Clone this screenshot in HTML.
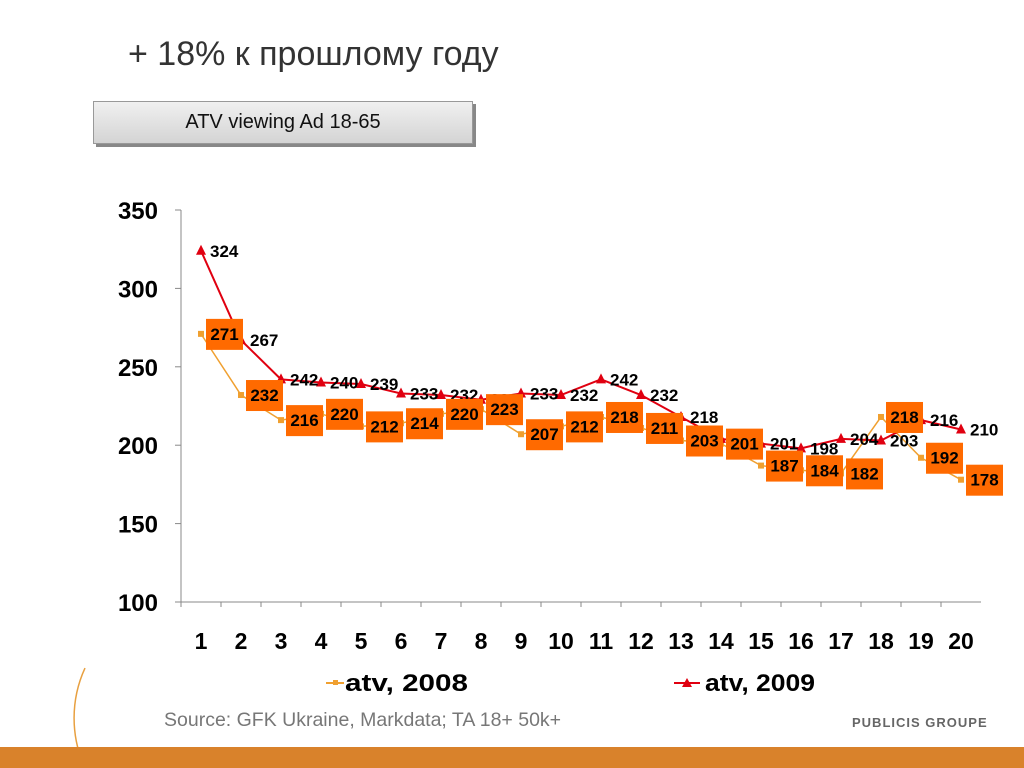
<!DOCTYPE html>
<html><head><meta charset="utf-8"><style>
body{margin:0;width:1024px;height:768px;background:#fff;font-family:"Liberation Sans",sans-serif;position:relative;overflow:hidden}
.t{position:absolute;left:128px;top:35px;font-size:34px;color:#333}
.hb{position:absolute;left:93px;top:101px;width:378px;height:41px;background:linear-gradient(#f0f0f0,#d4d4d4);border:1px solid #999;box-shadow:3px 3px 0 #888;font-size:20px;line-height:41px;text-align:center;color:#111}
.src{position:absolute;left:164px;top:709px;font-size:19.5px;color:#777}
.pub{position:absolute;left:852px;top:715px;font-size:13px;letter-spacing:1px;color:#666;font-weight:bold}
.bar{position:absolute;left:0;top:747px;width:1024px;height:21px;background:#d9822b}
</style></head><body>
<div class="t">+ 18% к прошлому году</div>
<div class="hb">ATV viewing Ad 18-65</div>
<svg width="1024" height="768" style="position:absolute;left:0;top:0">
<path d="M85 668 A120 120 0 0 0 85 768" fill="none" stroke="#e8a040" stroke-width="1.5"/>
<g id="g"></g>
<text x="345" y="691" font-size="24" font-weight="bold" font-family="Liberation Sans" textLength="123" lengthAdjust="spacingAndGlyphs">atv, 2008</text>
<line x1="326" y1="683" x2="344" y2="683" stroke="#f0a030" stroke-width="2"/>
<rect x="333" y="680" width="5" height="5" fill="#f0a030"/>
<text x="705" y="691" font-size="24" font-weight="bold" font-family="Liberation Sans" textLength="110" lengthAdjust="spacingAndGlyphs">atv, 2009</text>
<line x1="674" y1="683" x2="700" y2="683" stroke="#e00010" stroke-width="2"/>
<path d="M682 687 L687 678 L692 687Z" fill="#e00010"/>
</svg>
<div class="src">Source: GFK Ukraine, Markdata; TA 18+ 50k+</div>
<div class="pub">PUBLICIS GROUPE</div>
<div class="bar"></div>
<script>
const categories=[1,2,3,4,5,6,7,8,9,10,11,12,13,14,15,16,17,18,19,20];
const atv2008=[271,232,216,220,212,214,220,223,207,212,218,211,203,201,187,184,182,218,192,178];
const atv2009=[324,267,242,240,239,233,232,229,233,232,242,232,218,204,201,198,204,203,216,210];
const yTicks=[100,150,200,250,300,350];
const X=i=>201+i*40, Y=v=>602-(v-100)*1.568;
const NS='http://www.w3.org/2000/svg', g=document.getElementById('g');
function mk(t,a,txt){const e=document.createElementNS(NS,t);for(const k in a)e.setAttribute(k,a[k]);if(txt!==undefined)e.textContent=txt;g.appendChild(e);return e;}
let e=mk('line',{x1:181,y1:210,x2:181,y2:602,stroke:'#888'});


e=mk('line',{x1:181,y1:602,x2:981,y2:602,stroke:'#888'});


yTicks.forEach(v=>{
 e=mk('line',{x1:175,y1:Y(v),x2:181,y2:Y(v),stroke:'#888'});
 
 
 e=mk('text',{x:158,y:Y(v)+9,'text-anchor':'end','font-size':24,'font-weight':'bold','font-family':'Liberation Sans'},v);
 
 
});
categories.forEach((c,i)=>{
 e=mk('line',{x1:181+i*40,y1:602,x2:181+i*40,y2:607,stroke:'#888'});
 
 
 e=mk('text',{x:X(i),y:649,'text-anchor':'middle','font-size':23,'font-weight':'bold','font-family':'Liberation Sans'},c);
 
 
});
e=mk('polyline',{points:atv2008.map((v,i)=>X(i)+','+Y(v)).join(' '),fill:'none',stroke:'#f0a030','stroke-width':1.5});


e=mk('polyline',{points:atv2009.map((v,i)=>X(i)+','+Y(v)).join(' '),fill:'none',stroke:'#e00010','stroke-width':2});


atv2008.forEach((v,i)=>{
 e=mk('rect',{x:X(i)-3,y:Y(v)-3,width:6,height:6,fill:'#f0a030'});
 
 
});
atv2009.forEach((v,i)=>{
 e=mk('path',{d:`M${X(i)-5} ${Y(v)+4} L${X(i)} ${Y(v)-6} L${X(i)+5} ${Y(v)+4}Z`,fill:'#e00010'});
 
 
});
atv2009.forEach((v,i)=>{
 e=mk('text',{x:X(i)+9,y:Y(v)+6,'font-size':17,'font-weight':'bold','font-family':'Liberation Sans'},v);
 
 
});
atv2008.forEach((v,i)=>{
 e=mk('rect',{x:X(i)+5,y:Y(v)-15,width:37,height:31,fill:'#ff6a00'});
 
 
 e=mk('text',{x:X(i)+23.5,y:Y(v)+6,'text-anchor':'middle','font-size':17,'font-weight':'bold','font-family':'Liberation Sans'},v);
 
 
});
</script>
</body></html>
